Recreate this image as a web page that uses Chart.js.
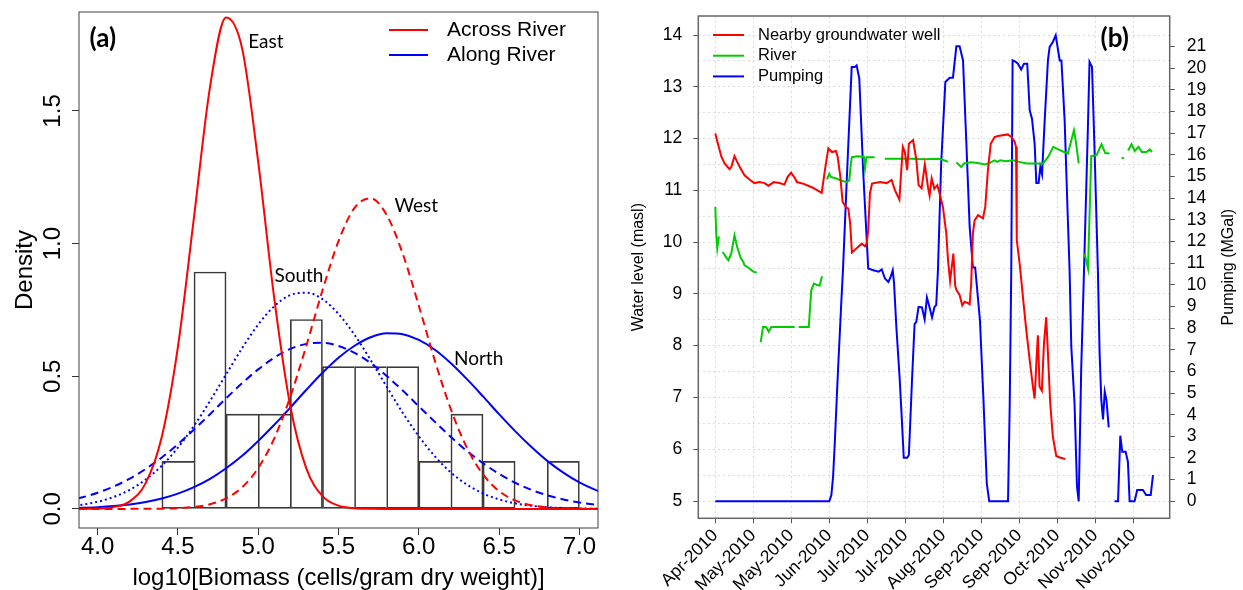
<!DOCTYPE html>
<html>
<head>
<meta charset="utf-8">
<title>Biomass density and water levels</title>
<script src="https://cdn.jsdelivr.net/npm/chart.js@4.4.1/dist/chart.umd.min.js"></script>
<style>
  html, body { margin: 0; padding: 0; background: #fff; }
  #wrap { position: relative; width: 1243px; height: 590px; }
  .panel { position: absolute; top: 0; height: 590px; }
  #panelA { left: 0; width: 620px; }
  #panelB { left: 620px; width: 623px; }
</style>
</head>
<body>
<div id="wrap">
  <div class="panel" id="panelA"><canvas id="densityChart"></canvas></div>
  <div class="panel" id="panelB"><canvas id="levelChart"></canvas></div>
</div>
<script>
// ---- (a) biomass histogram + fitted densities ----
var binStart = [4.4, 4.6, 4.8, 5.0, 5.2, 5.4, 5.6, 5.8, 6.0, 6.2, 6.4, 6.6, 6.8];
var binDensity = [0.179, 0.893, 0.357, 0.357, 0.714, 0.536, 0.536, 0.536, 0.179, 0.357, 0.179, 0, 0.179];
var binWidth = 0.2;

var biomassX = [3.8, 3.9, 4.0, 4.1, 4.2, 4.3, 4.4, 4.5, 4.6, 4.7, 4.8, 4.9, 5.0, 5.1, 5.2, 5.3, 5.4, 5.5,
  5.6, 5.7, 5.8, 5.9, 6.0, 6.1, 6.2, 6.3, 6.4, 6.5, 6.6, 6.7, 6.8, 6.9, 7.0, 7.1, 7.2];
var eastDensity = [0, 0.0002, 0.0012, 0.0066, 0.0285, 0.098, 0.273, 0.611, 1.099, 1.591, 1.852, 1.735,
  1.308, 0.793, 0.387, 0.152, 0.048, 0.0122, 0.0025, 0.0004, 0, 0, 0, 0, 0, 0, 0, 0, 0, 0, 0, 0, 0, 0, 0];
var westDensity = [0, 0, 0, 0, 0.0001, 0.0003, 0.0009, 0.0027, 0.0072, 0.0177, 0.0396, 0.0815, 0.154,
  0.266, 0.423, 0.616, 0.823, 1.009, 1.135, 1.171, 1.108, 0.962, 0.766, 0.559, 0.375, 0.230, 0.130,
  0.0672, 0.0319, 0.0139, 0.0055, 0.0020, 0.0007, 0.0002, 0];
var southDensity = [0.0085, 0.0155, 0.0269, 0.0450, 0.0721, 0.111, 0.163, 0.231, 0.313, 0.407, 0.507,
  0.606, 0.695, 0.764, 0.806, 0.815, 0.791, 0.735, 0.656, 0.561, 0.461, 0.362, 0.274, 0.198, 0.137,
  0.0915, 0.0584, 0.0358, 0.0210, 0.0118, 0.0064, 0.0033, 0.0016, 0.0008, 0.0004];
var alongDensity = [0.0294, 0.0429, 0.0609, 0.0845, 0.114, 0.151, 0.194, 0.244, 0.299, 0.357, 0.417,
  0.474, 0.526, 0.570, 0.603, 0.622, 0.626, 0.614, 0.588, 0.550, 0.501, 0.446, 0.387, 0.328, 0.271,
  0.218, 0.172, 0.132, 0.0985, 0.0720, 0.0513, 0.0356, 0.0242, 0.0160, 0.0103];
var northDensity = [0.0022, 0.0039, 0.0065, 0.0106, 0.0169, 0.0261, 0.0393, 0.0575, 0.0819, 0.113,
  0.153, 0.200, 0.256, 0.317, 0.382, 0.449, 0.513, 0.570, 0.615, 0.647, 0.662, 0.658, 0.637, 0.600,
  0.549, 0.489, 0.424, 0.357, 0.293, 0.234, 0.181, 0.137, 0.100, 0.0718, 0.0499];

var biomassTicks = [4.0, 4.5, 5.0, 5.5, 6.0, 6.5, 7.0];
var densityTicks = [0, 0.5, 1.0, 1.5];

// ---- (b) water levels and pumping, days counted from the first tick ----
var dayTicks = [0, 20, 40, 60, 80, 100, 120, 140, 160, 180, 200, 220];
var dateLabels = ['Apr-2010', 'May-2010', 'May-2010', 'Jun-2010', 'Jul-2010', 'Jul-2010',
  'Aug-2010', 'Sep-2010', 'Sep-2010', 'Oct-2010', 'Nov-2010', 'Nov-2010'];
var levelTicks = [5, 5.5, 6, 6.5, 7, 7.5, 8, 8.5, 9, 9.5, 10, 10.5, 11, 11.5, 12, 12.5, 13, 13.5, 14];
var pumpTicks = [0, 1, 2, 3, 4, 5, 6, 7, 8, 9, 10, 11, 12, 13, 14, 15, 16, 17, 18, 19, 20, 21];

var wellDay = [0, 1.8, 3.2, 4.9, 7.5, 8.4, 10.1, 11.5, 13.3, 15.4, 18.0, 20.6, 23.3, 25.9, 28.0, 30.8,
  33.8, 36.4, 38.1, 39.9, 42.0, 43.0, 46.9, 51.3, 56.0, 57.7, 59.5, 61.4, 63.5, 64.4, 65.8, 67.0, 68.8,
  70.0, 71.0, 71.9, 74.4, 77.1, 78.8, 79.7, 80.5, 81.4, 82.5, 86.7, 90.2, 92.8, 94.6, 96.9, 98.7, 99.8,
  101.0, 101.9, 104.1, 105.8, 107.0, 108.6, 110.3, 112.0, 112.8, 113.9, 115.3, 116.9, 118.1, 119.8,
  121.6, 122.5, 123.6, 125.3, 126.3, 127.0, 128.6, 130.0, 131.3, 133.0, 133.9, 134.7, 135.6, 136.5,
  138.3, 140.9, 142.1, 143.5, 145.0, 147.0, 148.8, 154.0, 155.8, 157.6, 158.3, 158.7, 160.4, 162.1,
  163.7, 165.5, 167.2, 168.1, 169.0, 169.8, 170.7, 171.9, 173.0, 174.2, 175.1, 176.3, 177.7, 179.5,
  181.3, 184.2];
var wellLevel = [12.10, 11.84, 11.65, 11.52, 11.41, 11.45, 11.66, 11.55, 11.42, 11.29, 11.21, 11.14,
  11.16, 11.14, 11.09, 11.16, 11.14, 11.11, 11.26, 11.34, 11.23, 11.16, 11.12, 11.05, 10.95, 11.39,
  11.81, 11.74, 11.76, 11.65, 11.27, 10.78, 10.67, 10.65, 10.36, 9.80, 9.88, 9.97, 9.92, 9.97, 10.23,
  10.94, 11.13, 11.16, 11.14, 11.20, 11.00, 10.82, 11.84, 11.74, 11.39, 11.90, 11.97, 11.60, 11.10,
  11.04, 11.50, 11.05, 10.90, 11.23, 11.03, 11.10, 10.94, 10.68, 10.17, 9.65, 9.25, 9.78, 9.15, 9.07,
  8.98, 8.78, 8.85, 8.82, 8.80, 9.20, 10.17, 10.42, 10.52, 10.46, 10.68, 11.39, 11.90, 12.03, 12.05,
  12.08, 12.03, 11.94, 11.84, 10.04, 9.52, 8.88, 8.30, 7.72, 7.21, 6.98, 7.66, 8.20, 7.21, 7.13, 8.04,
  8.55, 7.85, 6.89, 6.24, 5.87, 5.84, 5.81];

// null = no river record for that stretch
var riverDay = [0, 0.5, 1.05, 1.9, 2.9, 3.9, 5.8, 6.9, 8.4, 10.1, 11.5, 13.3, 14.7, 15.4, 18.0, 20.0,
  21.8, 22.8, 23.9, 25.1, 26.8, 28.1, 29.5, 41.8, 42.8, 43.9, 49.2, 50.5, 51.9, 53.7, 54.9, 56.2, 57.5,
  58.8, 60.0, 60.9, 63.5, 66.1, 68.8, 70.5, 71.4, 71.9, 74.9, 78.2, 78.8, 79.5, 83.9, 86.5, 89.2, 103.2,
  110.0, 117.2, 119.8, 122.5, 124.7, 126.9, 129.5, 130.9, 134.7, 138.0, 141.8, 144.5, 147.0, 148.5,
  150.0, 153.0, 156.8, 160.0, 163.9, 172.6, 175.3, 177.9, 180.0, 183.0, 185.6, 188.8, 189.7, 191.3,
  192.8, 194.4, 196.2, 197.9, 200.7, 203.3, 205.3, 207.5, 210.7, 213.9, 215.1, 216.2, 217.3, 219.1,
  220.8, 222.8, 224.5, 227.0, 228.7, 229.9];
var riverLevel = [10.68, 10.16, 9.88, 10.11, null, 9.81, 9.70, 9.65, 9.78, 10.13, 9.91, 9.70, 9.62,
  9.55, 9.49, 9.43, 9.41, null, 8.07, 8.36, 8.36, 8.27, 8.36, 8.36, null, 8.36, 8.36, 9.07, 9.20, 9.17,
  9.16, 9.34, null, 11.21, 11.32, 11.26, 11.23, 11.19, 11.16, 11.19, 11.52, 11.64, 11.66, 11.65, 11.42,
  11.64, 11.64, null, 11.61, 11.61, 11.60, 11.61, 11.59, 11.55, null, 11.54, 11.45, 11.52, 11.54,
  11.53, 11.50, 11.53, 11.58, 11.55, 11.58, 11.56, 11.58, 11.55, 11.52, 11.52, 11.65, 11.84, 11.80,
  11.75, 11.71, 12.16, 11.97, 11.52, null, 9.78, 9.49, 11.66, 11.68, 11.89, 11.72, 11.71, null, 11.62,
  11.63, null, 11.77, 11.89, 11.76, 11.84, 11.74, 11.74, 11.79, 11.74];

var pumpDay = [0, 60.0, 61.1, 62.0, 62.8, 64.6, 66.3, 67.2, 69.2, 71.8, 73.5, 74.4, 75.8, 77.9, 80.5,
  83.2, 86.0, 87.6, 89.3, 91.1, 92.3, 93.4, 94.1, 95.3, 97.0, 98.3, 99.2, 101.0, 101.9, 103.5, 104.9,
  105.8, 107.0, 108.8, 110.2, 111.4, 112.7, 114.1, 115.4, 116.3, 117.2, 118.9, 121.1, 123.4, 125.1,
  126.9, 128.6, 130.4, 132.1, 133.9, 135.6, 136.8, 139.3, 141.1, 142.9, 144.2, 154.1, 155.0, 155.8,
  156.5, 158.0, 159.3, 161.0, 162.5, 164.2, 165.5, 166.7, 168.1, 169.0, 170.2, 171.1, 172.0, 173.4,
  175.1, 176.0, 177.7, 179.2, 181.3, 182.2, 183.9, 185.6, 186.5, 187.4, 189.1, 190.4, 191.3, 192.6,
  194.1, 196.1, 197.0, 198.3, 199.7, 201.4, 202.3, 203.2, 204.1, 205.0, 205.9, 207.1, 208.6, 210.2,
  212.0, 213.2, 214.2, 216.0, 217.2, 218.1, 220.7, 222.1, 225.1, 226.8, 229.2, 230.4];
var pumpMGal = [0, 0, 0.29, 1.14, 2.52, 6.06, 9.14, 10.67, 14.83, 20.06, 20.06, 20.13, 19.52, 15.14,
  10.75, 10.67, 10.60, 10.71, 10.29, 10.13, 10.36, 10.67, 10.06, 8.06, 5.75, 3.60, 2.01, 2.01, 2.14,
  5.50, 8.18, 8.29, 8.98, 8.95, 8.40, 9.41, 8.98, 8.49, 8.98, 9.06, 10.67, 15.60, 19.36, 19.56, 19.56,
  21.01, 21.01, 20.36, 16.67, 12.67, 10.80, 10.80, 8.37, 4.83, 0.83, 0, 0, 4.52, 10.67, 20.36, 20.30,
  20.21, 19.94, 20.21, 20.21, 18.06, 17.67, 16.52, 14.70, 14.70, 15.44, 15.10, 17.60, 20.36, 20.98,
  21.21, 21.52, 20.36, 20.36, 17.59, 12.98, 10.67, 7.14, 4.52, 0.67, 0, 6.06, 10.67, 17.13, 20.29,
  20.06, 16.06, 10.67, 6.83, 4.67, 3.78, 5.06, 4.67, 3.41, null, 0, 0, 3.03, 2.29, 2.29, 1.83, 0, 0,
  0.52, 0.52, 0.29, 0.29, 1.21];

Chart.defaults.font.family = "'Liberation Sans', Arial, sans-serif";
Chart.defaults.color = '#000';

function pairs(xs, ys) {
  return xs.map(function(x, i) { return {x: x, y: ys[i]}; });
}

function fixedTicks(values) {
  return function(scale) {
    scale.ticks = values.map(function(v) { return {value: v}; });
  };
}

function fixSize(prop, size) {
  return function(scale) {
    scale[prop] = size;
    scale.paddingTop = 0; scale.paddingBottom = 0;
    scale.paddingLeft = 0; scale.paddingRight = 0;
  };
}

// box round the plotting region
var frame = {
  id: 'frame',
  afterDraw: function(chart, args, opts) {
    var a = chart.chartArea, ctx = chart.ctx;
    ctx.save();
    ctx.strokeStyle = opts.color;
    ctx.lineWidth = opts.width;
    ctx.strokeRect(a.left, a.top, a.right - a.left, a.bottom - a.top);
    ctx.restore();
  }
};

// text labels placed in data coordinates
var notes = {
  id: 'notes',
  afterDatasetsDraw: function(chart, args, opts) {
    var ctx = chart.ctx;
    (opts.items || []).forEach(function(n) {
      var xs = chart.scales.x, ys = chart.scales[n.axis || 'y'];
      ctx.save();
      ctx.font = n.font;
      ctx.fillStyle = '#000';
      ctx.textAlign = 'left';
      ctx.textBaseline = 'middle';
      ctx.fillText(n.text, xs.getPixelForValue(n.x), ys.getPixelForValue(n.y));
      ctx.restore();
    });
  }
};

// line-sample legend
var keyBox = {
  id: 'keyBox',
  afterDraw: function(chart, args, opts) {
    var ctx = chart.ctx;
    opts.entries.forEach(function(e, i) {
      var y = opts.top + i * opts.rowGap;
      ctx.save();
      ctx.strokeStyle = e.color;
      ctx.lineWidth = 2;
      ctx.beginPath();
      ctx.moveTo(opts.left, y);
      ctx.lineTo(opts.left + opts.lineLength, y);
      ctx.stroke();
      ctx.font = opts.font;
      ctx.fillStyle = '#000';
      ctx.textBaseline = 'middle';
      ctx.fillText(e.text, opts.textLeft, y);
      ctx.restore();
    });
  }
};

// right axis title, read bottom to top
var sideTitle = {
  id: 'sideTitle',
  afterDraw: function(chart, args, opts) {
    var s = chart.scales[opts.axis], ctx = chart.ctx;
    ctx.save();
    ctx.translate(s.right - opts.offset, (s.top + s.bottom) / 2);
    ctx.rotate(-Math.PI / 2);
    ctx.font = opts.font;
    ctx.fillStyle = '#000';
    ctx.textAlign = 'center';
    ctx.textBaseline = 'middle';
    ctx.fillText(opts.text, 0, 0);
    ctx.restore();
  }
};

var curveStyle = { pointRadius: 0, borderWidth: 2, cubicInterpolationMode: 'monotone', fill: false };

new Chart(document.getElementById('densityChart'), {
  type: 'line',
  data: {
    datasets: [
      Object.assign({ label: 'East', data: pairs(biomassX, eastDensity), borderColor: '#ff0000' }, curveStyle),
      Object.assign({ label: 'West', data: pairs(biomassX, westDensity), borderColor: '#ff0000', borderDash: [8, 5] }, curveStyle),
      Object.assign({ label: 'South', data: pairs(biomassX, southDensity), borderColor: '#0000ff', borderDash: [2, 3] }, curveStyle),
      Object.assign({ label: 'Along River (all)', data: pairs(biomassX, alongDensity), borderColor: '#0000ff', borderDash: [8, 5] }, curveStyle),
      Object.assign({ label: 'North', data: pairs(biomassX, northDensity), borderColor: '#0000ff' }, curveStyle),
      {
        type: 'bar',
        label: 'Samples',
        data: binStart.map(function(b, i) { return {x: b + binWidth / 2, y: binDensity[i]}; }),
        backgroundColor: 'rgba(0,0,0,0)',
        borderColor: '#3a3a3a',
        borderSkipped: false,
        borderWidth: function(ctx) {
          var i = ctx.dataIndex, next = binDensity[i + 1];
          return {top: 1, bottom: 1, left: 1, right: (next === undefined || next < binDensity[i]) ? 1 : 0};
        },
        barPercentage: 1,
        categoryPercentage: 1
      }
    ]
  },
  options: {
    responsive: true,
    maintainAspectRatio: false,
    animation: false,
    events: [],
    layout: { padding: { top: 12, right: 22, left: 0, bottom: 0 } },
    plugins: {
      legend: { display: false },
      tooltip: { enabled: false },
      frame: { color: '#404040', width: 1 },
      notes: {
        items: [
          { text: '(a)', x: 3.95, y: 1.773, font: "bold 26px Lato, 'Open Sans', sans-serif" },
          { text: 'East', x: 4.938, y: 1.761, font: "19px Lato, 'Open Sans', sans-serif" },
          { text: 'West', x: 5.848, y: 1.141, font: "19px Lato, 'Open Sans', sans-serif" },
          { text: 'South', x: 5.101, y: 0.877, font: "19px Lato, 'Open Sans', sans-serif" },
          { text: 'North', x: 6.219, y: 0.567, font: "19px Lato, 'Open Sans', sans-serif" }
        ]
      },
      keyBox: {
        left: 389, lineLength: 39, textLeft: 447, top: 30, rowGap: 25,
        font: "21px 'Liberation Sans', Arial, sans-serif",
        entries: [
          { text: 'Across River', color: '#ff0000' },
          { text: 'Along River', color: '#0000ff' }
        ]
      }
    },
    scales: {
      x: {
        type: 'linear',
        min: 3.884,
        max: 7.116,
        offset: false,
        afterBuildTicks: fixedTicks(biomassTicks),
        afterFit: fixSize('height', 62),
        grid: { drawOnChartArea: false, tickLength: 7, tickColor: '#333', offset: false },
        border: { display: false },
        ticks: {
          autoSkip: false, maxRotation: 0, padding: 0,
          font: { size: 24, lineHeight: 1 },
          callback: function(v) { return v.toFixed(1); }
        },
        title: {
          display: true,
          text: 'log10[Biomass (cells/gram dry weight)]',
          font: { size: 24, lineHeight: 1 },
          padding: { top: 0, bottom: 0 }
        }
      },
      y: {
        min: -0.072,
        max: 1.873,
        afterBuildTicks: fixedTicks(densityTicks),
        afterFit: fixSize('width', 79),
        grid: { drawOnChartArea: false, tickLength: 7, tickColor: '#333' },
        border: { display: false },
        ticks: {
          autoSkip: false, minRotation: 90, maxRotation: 90, crossAlign: 'center', padding: 2,
          font: { size: 24, lineHeight: 1 },
          callback: function(v) { return v.toFixed(1); }
        },
        title: {
          display: true,
          text: 'Density',
          font: { size: 24, lineHeight: 1 },
          padding: { top: 13, bottom: 0 }
        }
      }
    }
  },
  plugins: [frame, notes, keyBox]
});

var seriesStyle = { pointRadius: 0, borderWidth: 2, tension: 0, fill: false, spanGaps: false };

new Chart(document.getElementById('levelChart'), {
  type: 'line',
  data: {
    datasets: [
      Object.assign({ label: 'Nearby groundwater well', data: pairs(wellDay, wellLevel), borderColor: '#ff0000', yAxisID: 'y' }, seriesStyle),
      Object.assign({ label: 'River', data: pairs(riverDay, riverLevel), borderColor: '#00cd00', yAxisID: 'y' }, seriesStyle),
      Object.assign({ label: 'Pumping', data: pairs(pumpDay, pumpMGal), borderColor: '#0000ff', yAxisID: 'y2' }, seriesStyle)
    ]
  },
  options: {
    responsive: true,
    maintainAspectRatio: false,
    animation: false,
    events: [],
    layout: { padding: { top: 16, right: 0, left: 0, bottom: 0 } },
    plugins: {
      legend: { display: false },
      tooltip: { enabled: false },
      frame: { color: '#666', width: 1.5 },
      notes: {
        items: [
          { text: '(b)', x: 202.8, y: 13.93, font: "bold 26px Lato, 'Open Sans', sans-serif" }
        ]
      },
      keyBox: {
        left: 93, lineLength: 31, textLeft: 138, top: 35, rowGap: 20.7,
        font: "16.5px 'Liberation Sans', Arial, sans-serif",
        entries: [
          { text: 'Nearby groundwater well', color: '#ff0000' },
          { text: 'River', color: '#00cd00' },
          { text: 'Pumping', color: '#0000ff' }
        ]
      },
      sideTitle: { axis: 'y2', text: 'Pumping (MGal)', offset: 14, font: "16px 'Liberation Sans', Arial, sans-serif" }
    },
    scales: {
      x: {
        type: 'linear',
        min: -8.95,
        max: 239.2,
        afterBuildTicks: fixedTicks(dayTicks),
        afterFit: fixSize('height', 71.7),
        grid: { color: '#dcdcdc', tickColor: '#555', tickLength: 5 },
        border: { display: false, dash: [2, 3] },
        ticks: {
          autoSkip: false, minRotation: 45, maxRotation: 45, padding: 2,
          font: { size: 17.5 },
          callback: function(v, i) { return dateLabels[i]; }
        }
      },
      y: {
        position: 'left',
        min: 4.666,
        max: 14.367,
        afterBuildTicks: fixedTicks(levelTicks),
        afterFit: fixSize('width', 78.3),
        grid: {
          color: '#dcdcdc', tickLength: 5,
          tickColor: function(ctx) { return ctx.tick && Number.isInteger(ctx.tick.value) ? '#555' : 'rgba(0,0,0,0)'; }
        },
        border: { display: false, dash: [2, 3] },
        ticks: {
          autoSkip: false,
          padding: 11,
          font: { size: 17.5 },
          callback: function(v) { return Number.isInteger(v) ? v : ''; }
        },
        title: {
          display: true,
          text: 'Water level (masl)',
          font: { size: 16, lineHeight: 1 },
          padding: { top: 11, bottom: 0 }
        }
      },
      y2: {
        position: 'right',
        min: -0.785,
        max: 22.41,
        afterBuildTicks: fixedTicks(pumpTicks),
        afterFit: fixSize('width', 73.3),
        grid: { drawOnChartArea: false, tickColor: '#555', tickLength: 5 },
        border: { display: false },
        ticks: { autoSkip: false, padding: 12, font: { size: 17.5 } }
      }
    }
  },
  plugins: [frame, notes, keyBox, sideTitle]
});
</script>
</body>
</html>
